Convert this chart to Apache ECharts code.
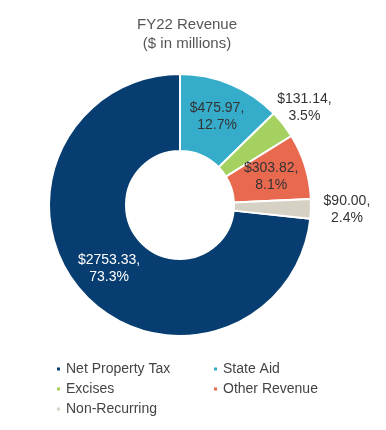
<!DOCTYPE html>
<html>
<head>
<meta charset="utf-8">
<script src="https://cdn.jsdelivr.net/npm/echarts@6/dist/echarts.min.js"></script>
<style>
html,body{margin:0;padding:0;background:#fff;}
#chart{width:386px;height:430px;}
</style>
</head>
<body>
<div id="chart"></div>
<script>
var categories = ["Net Property Tax", "State Aid", "Excises", "Other Revenue", "Non-Recurring"];
var values = [2753.33, 475.97, 131.14, 303.82, 90.00];
var percents = ["73.3%", "12.7%", "3.5%", "8.1%", "2.4%"];
var colors = ["#073d70", "#35adca", "#a4d15f", "#e9694f", "#d6d1c5"];
var outsideLabels = [false, false, true, false, true];
var labelColors = ["#ffffff", "#333333", "#333333", "#333333", "#333333"];
var lineLengths = [0, 0, 27, 0, 36];

var total = values.reduce(function (a, b) { return a + b; }, 0);
var startAngle = 90 + values[0] / total * 360;

var data = categories.map(function (c, i) {
  var item = {
    name: c,
    value: values[i],
    itemStyle: { color: colors[i] },
    label: {
      position: outsideLabels[i] ? 'outside' : 'inside',
      color: labelColors[i]
    }
  };
  if (outsideLabels[i]) {
    item.label.distanceToLabelLine = 0;
    item.labelLine = { show: false, length: lineLengths[i], length2: 0 };
  }
  return item;
});

var chart = echarts.init(document.getElementById('chart'));
chart.setOption({
  animation: false,
  title: {
    text: 'FY22 Revenue',
    subtext: '($ in millions)',
    left: 182,
    textAlign: 'center',
    top: 12,
    itemGap: 4,
    textStyle: { fontFamily: 'Liberation Sans', fontSize: 15, fontWeight: 'normal', color: '#555555' },
    subtextStyle: { fontFamily: 'Liberation Sans', fontSize: 15, color: '#555555' }
  },
  legend: {
    data: categories,
    left: 50,
    top: 356,
    width: 330,
    orient: 'horizontal',
    itemWidth: 5,
    itemHeight: 5,
    itemGap: 4,
    icon: 'rect',
    textStyle: { fontFamily: 'Liberation Sans', fontSize: 14, color: '#444444', width: 142, lineHeight: 16 }
  },
  series: [{
    type: 'pie',
    center: [180, 205],
    radius: [54, 131],
    startAngle: startAngle,
    clockwise: true,
    avoidLabelOverlap: false,
    itemStyle: { borderColor: '#ffffff', borderWidth: 2 },
    label: {
      show: true,
      fontFamily: 'Liberation Sans',
      fontSize: 14,
      lineHeight: 17,
      formatter: function (p) {
        return '$' + values[p.dataIndex].toFixed(2) + ',\n' + percents[p.dataIndex];
      }
    },
    labelLayout: function (params) {
      if (outsideLabels[params.dataIndex]) {
        return { align: 'center' };
      }
      return {};
    },
    data: data
  }]
});
</script>
</body>
</html>
